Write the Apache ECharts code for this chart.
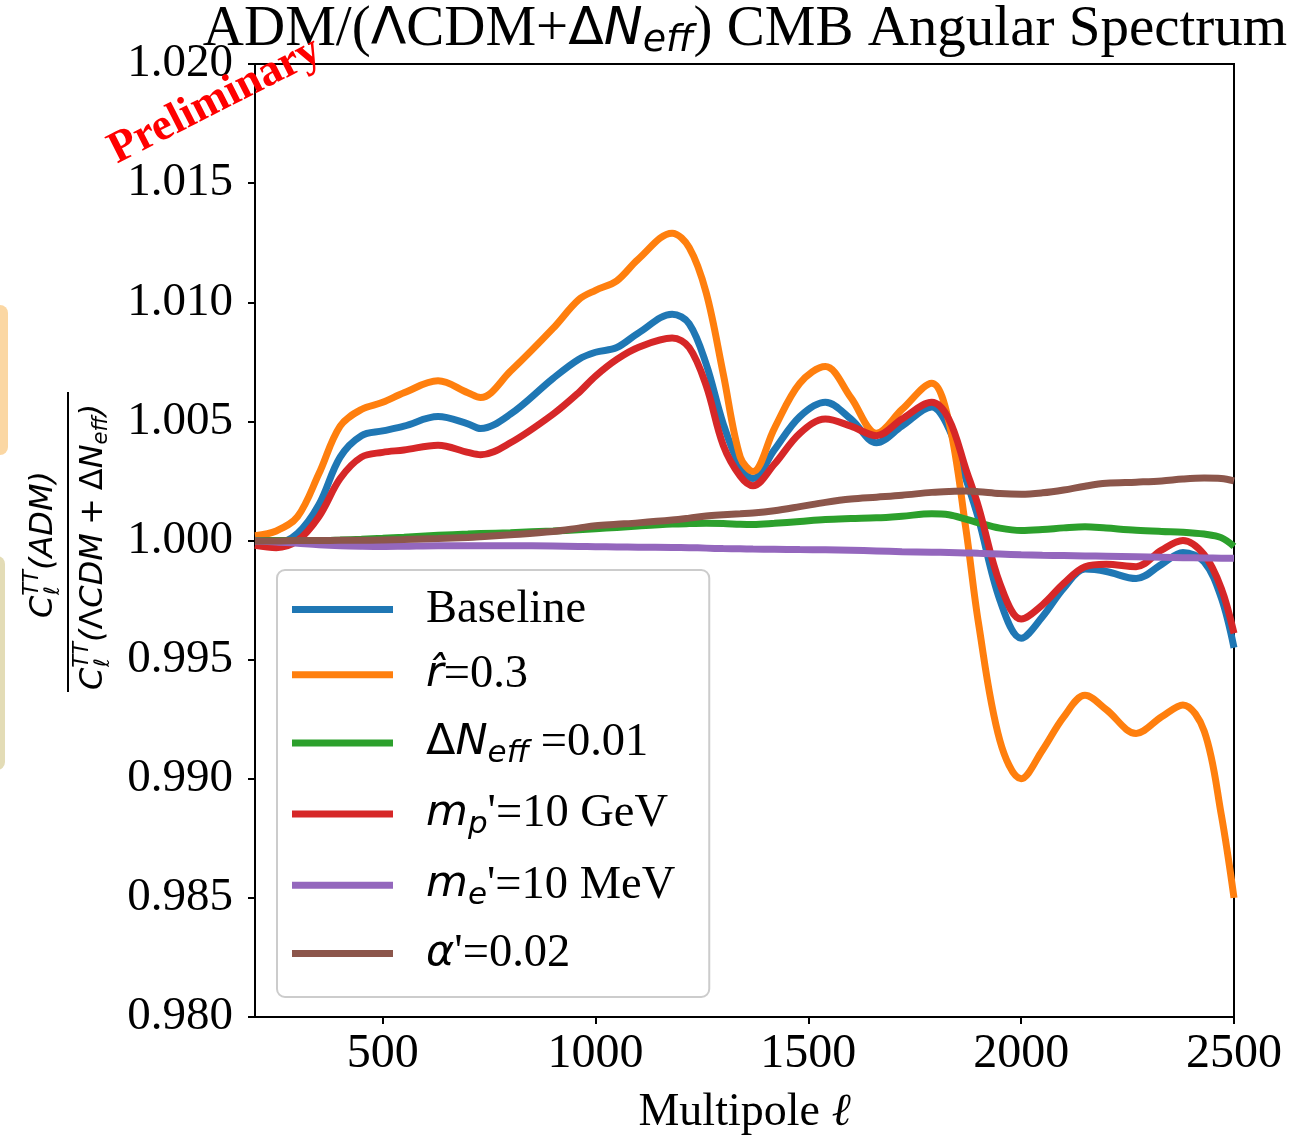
<!DOCTYPE html>
<html>
<head>
<meta charset="utf-8">
<script src="https://cdn.jsdelivr.net/npm/echarts@6/dist/echarts.min.js"></script>
<style>html,body{margin:0;padding:0;background:#fff}#c{width:1313px;height:1141px}</style>
</head>
<body>
<div id="c"></div>
<script>
// Multipole ell sample points
const ell = [200,250,300,350,400,450,500,550,630,700,730,800,900,960,1000,1050,1100,1180,1220,1260,1300,1340,1370,1420,1480,1540,1600,1660,1720,1790,1830,1870,1900,1950,2000,2050,2100,2150,2200,2270,2330,2380,2430,2470,2500];

const baseline = [0.9999,0.9999,1.0003,1.0015,1.0035,1.0044,1.0046,1.0048,1.0052,1.0049,1.0047,1.0053,1.0068,1.0076,1.0079,1.0081,1.0087,1.0095,1.0091,1.0074,1.0049,1.0031,1.0026,1.0038,1.0052,1.0058,1.0051,1.0041,1.0048,1.0056,1.0047,1.0026,1.0009,0.9975,0.9959,0.9968,0.9980,0.9988,0.9987,0.9984,0.9990,0.9995,0.9991,0.9976,0.9955];
const rhat = [1.0002,1.0004,1.0010,1.0028,1.0048,1.0055,1.0058,1.0062,1.0067,1.0062,1.0060,1.0071,1.0089,1.0101,1.0105,1.0109,1.0118,1.0129,1.0123,1.0104,1.0070,1.0035,1.0029,1.0047,1.0066,1.0073,1.0060,1.0045,1.0055,1.0066,1.0050,1.0005,0.9965,0.9916,0.9900,0.9912,0.9926,0.9935,0.9929,0.9919,0.9926,0.9931,0.9920,0.9885,0.9850];
const dneff = [1.00000,1.00000,1.00000,1.00000,1.00002,1.00005,1.00009,1.00014,1.00022,1.00027,1.00029,1.00033,1.00040,1.00045,1.00049,1.00055,1.00061,1.00069,1.00071,1.00072,1.00071,1.00068,1.00067,1.00072,1.00080,1.00088,1.00092,1.00095,1.00102,1.00112,1.00108,1.00090,1.00074,1.00052,1.00042,1.00046,1.00053,1.00058,1.00052,1.00043,1.00038,1.00035,1.00027,1.00012,0.99975];
const mp = [0.9998,0.9997,1.0000,1.0010,1.0026,1.0035,1.0037,1.0038,1.0040,1.0037,1.0036,1.0041,1.0053,1.0062,1.0069,1.0076,1.0081,1.0085,1.0081,1.0065,1.0040,1.0027,1.0023,1.0032,1.0045,1.0051,1.0048,1.0044,1.0051,1.0058,1.0051,1.0030,1.0014,0.9982,0.9967,0.9973,0.9982,0.9989,0.9990,0.9989,0.9996,1.0000,0.9994,0.9980,0.9961];
const me = [0.99998,0.99994,0.99988,0.99982,0.99978,0.99976,0.99975,0.99976,0.99978,0.99978,0.99978,0.99978,0.99977,0.99975,0.99974,0.99973,0.99972,0.99971,0.99970,0.99968,0.99966,0.99965,0.99964,0.99963,0.99962,0.99961,0.99959,0.99956,0.99953,0.99951,0.99950,0.99948,0.99946,0.99943,0.99940,0.99938,0.99937,0.99935,0.99934,0.99932,0.99930,0.99928,0.99927,0.99926,0.99925];
const alphap = [0.99998,0.99998,1.00000,1.00000,1.00001,1.00001,1.00002,1.00004,1.00008,1.00013,1.00016,1.00024,1.00038,1.00052,1.00062,1.00068,1.00074,1.00086,1.00094,1.00103,1.00108,1.00112,1.00115,1.00125,1.00142,1.00160,1.00174,1.00182,1.00190,1.00202,1.00206,1.00208,1.00205,1.00197,1.00194,1.00200,1.00212,1.00228,1.00240,1.00245,1.00250,1.00258,1.00262,1.00260,1.00250];

const seriesNames = ['Baseline','rhat','dneff','mp','me','alpha'];
const seriesValues = [baseline, rhat, dneff, mp, me, alphap];
const colors = ['#1f77b4','#ff7f0e','#2ca02c','#d62728','#9467bd','#8c564b'];
const xTicks = [500,1000,1500,2000,2500];

const SERIF = "'Liberation Serif','Times New Roman',serif";
const SANS = "'DejaVu Sans',sans-serif";

const legendLabels = {
  Baseline: '{g| }{t|Baseline}',
  rhat: '{g| }{m|r\u0302}{t|=0.3}',
  dneff: '{g| }{u|\u0394}{m|N}{sub|eff}{t| =0.01}',
  mp: "{g| }{m|m}{sub|p}{t|'=10 GeV}",
  me: "{g| }{m|m}{sub|e}{t|'=10 MeV}",
  alpha: "{g| }{m|\u03b1}{t|'=0.02}"
};

const chart = echarts.init(document.getElementById('c'));
const series = seriesNames.map((n, i) => ({
  name: n,
  type: 'line',
  data: ell.map((x, j) => [x, seriesValues[i][j]]),
  showSymbol: false,
  smooth: 0.35,
  lineStyle: {width: 7, color: colors[i]},
  itemStyle: {color: colors[i]},
  z: 2 + i
}));

const lh = 52;
chart.setOption({
  backgroundColor: '#fff',
  animation: false,
  grid: {left: 255, right: 79, top: 64, bottom: 121, show: true, borderColor: '#000', borderWidth: 2, backgroundColor: 'transparent'},
  xAxis: {
    type: 'value', min: 200, max: 2500,
    axisLine: {lineStyle: {color: '#000', width: 2}},
    axisTick: {show: true, length: 7, lineStyle: {color: '#000', width: 2}, customValues: xTicks},
    axisLabel: {customValues: xTicks, margin: 13, color: '#000', fontFamily: SERIF, fontSize: 48, formatter: v => String(v)},
    splitLine: {show: false},
    name: '{s|Multipole }{i|\u2113}',
    nameLocation: 'middle', nameGap: 73,
    nameTextStyle: {rich: {s: {fontFamily: SERIF, fontSize: 46, color: '#000'}, i: {fontFamily: SERIF, fontStyle: 'italic', fontSize: 46, color: '#000'}}}
  },
  yAxis: {
    type: 'value', min: 0.98, max: 1.02, interval: 0.005,
    axisLine: {show: true, lineStyle: {color: '#000', width: 2}},
    axisTick: {show: true, length: 7, lineStyle: {color: '#000', width: 2}},
    axisLabel: {margin: 22, color: '#000', fontFamily: SERIF, fontSize: 47, formatter: v => v.toFixed(3)},
    splitLine: {show: false}
  },
  legend: {
    show: true, orient: 'vertical', left: 277, top: 570,
    selectedMode: false,
    icon: 'rect', itemWidth: 101, itemHeight: 7, itemGap: 18.2,
    padding: [16, 34, 20, 15],
    backgroundColor: 'rgba(255,255,255,0.8)', borderColor: '#cccccc', borderWidth: 2, borderRadius: 8,
    data: seriesNames.map((n, i) => ({name: n, itemStyle: {color: colors[i]}})),
    formatter: n => legendLabels[n],
    textStyle: {
      color: '#000',
      rich: {
        g: {width: 28, fontSize: 10, lineHeight: lh},
        t: {fontFamily: SERIF, fontSize: 46.5, lineHeight: lh, color: '#000'},
        m: {fontFamily: SANS, fontStyle: 'italic', fontSize: 43, lineHeight: lh, color: '#000'},
        u: {fontFamily: SANS, fontSize: 43, lineHeight: lh, color: '#000'},
        sub: {fontFamily: SANS, fontStyle: 'italic', fontSize: 31, lineHeight: lh, padding: [22, 0, 0, 0], color: '#000'}
      }
    }
  },
  graphic: [
    {type: 'rect', shape: {x: -12, y: 305, width: 20, height: 150, r: 8}, style: {fill: '#fbd7a3'}, silent: true},
    {type: 'rect', shape: {x: -12, y: 556, width: 17, height: 214, r: 8}, style: {fill: '#e3dcb6'}, silent: true},
    {
      type: 'text', x: 745, y: 30, z: 50,
      style: {
        text: '{s|ADM/(}{u|\u039b}{s|CDM+}{u|\u0394}{i|N}{sub|eff}{s|) CMB Angular Spectrum}',
        textAlign: 'center', textVerticalAlign: 'middle',
        rich: {
          s: {fontFamily: SERIF, fontSize: 57, fill: '#000', lineHeight: 62},
          u: {fontFamily: SANS, fontSize: 52, fill: '#000', lineHeight: 62},
          i: {fontFamily: SANS, fontStyle: 'italic', fontSize: 52, fill: '#000', lineHeight: 62},
          sub: {fontFamily: SANS, fontStyle: 'italic', fontSize: 38, fill: '#000', lineHeight: 62, padding: [22, 0, 0, 0]}
        }
      }
    },
    {
      type: 'group', x: 68, y: 542, rotation: Math.PI / 2, z: 50,
      children: [
        {type: 'line', shape: {x1: -150, y1: 0, x2: 150, y2: 0}, style: {stroke: '#000', lineWidth: 2}},
        {type: 'text', x: -76, y: -24, style: {
          text: '{i|C}{sup|TT}{i|(ADM)}', textAlign: 'left', textVerticalAlign: 'middle',
          rich: {
            i: {fontFamily: SANS, fontStyle: 'italic', fontSize: 32, fill: '#000', lineHeight: 44},
            sup: {fontFamily: SANS, fontStyle: 'italic', fontSize: 21, fill: '#000', lineHeight: 44, padding: [0, 0, 22, 0]}
          }}},
        {type: 'text', x: -53, y: -14, style: {text: '\u2113', fontFamily: SANS, fontStyle: 'italic', fontSize: 21, fill: '#000', textAlign: 'left', textVerticalAlign: 'middle'}},
        {type: 'text', x: -148, y: 26, style: {
          text: '{i|C}{sup|TT}{i|(}{u|\u039b}{i|CDM}{sp| }{u|+}{sp| }{u|\u0394}{i|N}{sub|eff}{i|)}', textAlign: 'left', textVerticalAlign: 'middle',
          rich: {
            i: {fontFamily: SANS, fontStyle: 'italic', fontSize: 32, fill: '#000', lineHeight: 44},
            u: {fontFamily: SANS, fontSize: 32, fill: '#000', lineHeight: 44},
            sp: {fontFamily: SANS, fontSize: 32, width: 8, lineHeight: 44},
            sup: {fontFamily: SANS, fontStyle: 'italic', fontSize: 21, fill: '#000', lineHeight: 44, padding: [0, 0, 22, 0]},
            sub: {fontFamily: SANS, fontStyle: 'italic', fontSize: 21, fill: '#000', lineHeight: 44, padding: [16, 0, 0, 0]}
          }}},
        {type: 'text', x: -125, y: 36, style: {text: '\u2113', fontFamily: SANS, fontStyle: 'italic', fontSize: 21, fill: '#000', textAlign: 'left', textVerticalAlign: 'middle'}}
      ]
    },
    {
      type: 'text', x: 215, y: 101, rotation: 0.47, z: 100,
      style: {text: 'Preliminary', fontFamily: SERIF, fontWeight: 'bold', fontSize: 45, fill: '#ff0000', textAlign: 'center', textVerticalAlign: 'middle'}
    }
  ],
  series: series
});
</script>
</body>
</html>
